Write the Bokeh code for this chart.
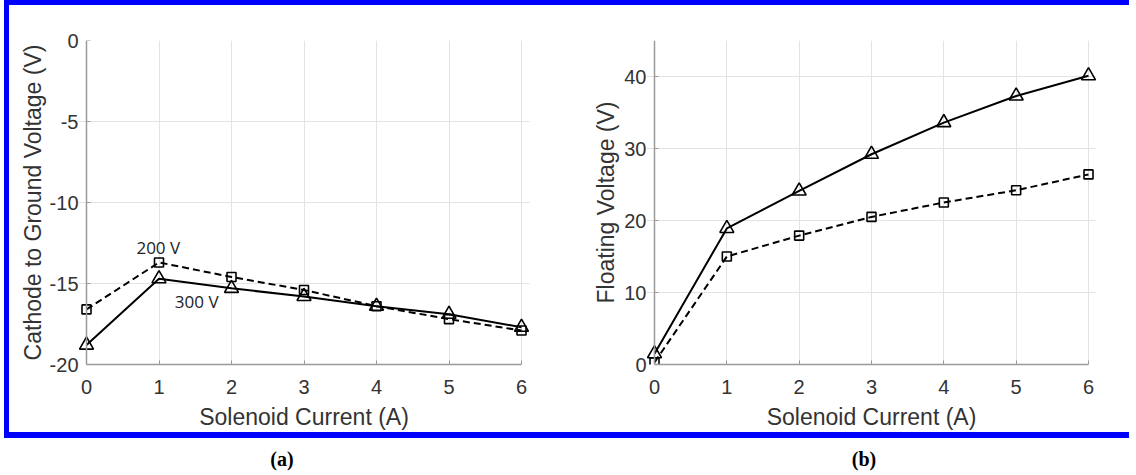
from bokeh.plotting import figure
from bokeh.models import Row, Column, Div, FixedTicker, Range1d, ColumnDataSource, LinearAxis, Grid
from bokeh.core.properties import value
from bokeh.embed import file_html
from bokeh.resources import INLINE

# ---------------- data ----------------
current = [0, 1, 2, 3, 4, 5, 6]

# (a) Cathode to ground voltage
cathode_200 = [-16.6, -13.7, -14.6, -15.4, -16.4, -17.2, -17.9]
cathode_300 = [-18.8, -14.7, -15.3, -15.8, -16.4, -16.9, -17.7]

# (b) Floating voltage
floating_200 = [0.3, 15.0, 17.9, 20.5, 22.5, 24.2, 26.4]
floating_300 = [1.5, 18.9, 24.1, 29.2, 33.6, 37.3, 40.1]

a_yticks = [-20, -15, -10, -5, 0]
b_yticks = [0, 10, 20, 30, 40]
x_ticks = [0, 1, 2, 3, 4, 5, 6]

annot_text = ["200 V", "300 V"]
annot_x = [0.99, 1.52]
annot_y = [-12.8, -16.1]

panel_labels = ["(a)", "(b)"]

TICK_FONT = "Liberation Sans"
TXT = "#333333"
AXIS_GREY = "#9a9a9a"
GRID_GREY = "#e3e3e3"


def style_axis(ax, ticks):
    ax.ticker = FixedTicker(ticks=ticks)
    ax.major_label_overrides = {t: str(t) for t in ticks}
    ax.axis_line_color = AXIS_GREY
    ax.axis_line_width = 1.5
    ax.major_tick_in = 4
    ax.major_tick_out = 0
    ax.major_tick_line_color = AXIS_GREY
    ax.minor_tick_line_color = None
    ax.major_label_text_font = TICK_FONT
    ax.major_label_text_font_size = "20px"
    ax.major_label_text_color = TXT
    ax.axis_label_text_font = TICK_FONT
    ax.axis_label_text_font_size = "23px"
    ax.axis_label_text_font_style = "normal"
    ax.axis_label_text_color = TXT


def make_panel(fw, bl, br, xr, yr, yticks, ylabel, ylabel_standoff):
    p = figure(frame_width=fw, frame_height=324, output_backend="svg", toolbar_location=None,
               x_range=Range1d(*xr), y_range=Range1d(*yr), y_axis_location=None,
               min_border_left=bl, min_border_right=br, min_border_top=35, min_border_bottom=65,
               x_axis_label="Solenoid Current (A)")
    style_axis(p.xaxis[0], x_ticks)
    p.xaxis.bounds = (x_ticks[0], x_ticks[-1])
    p.xaxis.major_label_standoff = 15
    p.xaxis.axis_label_standoff = 7

    # labelled y axis at the frame edge (its line hidden)
    ylab = LinearAxis(axis_label=ylabel)
    style_axis(ylab, yticks)
    ylab.axis_line_color = None
    ylab.major_tick_line_color = None
    ylab.major_label_standoff = 0
    ylab.axis_label_standoff = ylabel_standoff
    p.add_layout(ylab, "left")

    # visible y axis line and ticks at x = 0
    yline = LinearAxis(fixed_location=x_ticks[0])
    style_axis(yline, yticks)
    yline.major_label_text_font_size = "0px"
    yline.major_label_text_alpha = 0
    p.add_layout(yline, "left")

    p.xgrid.grid_line_color = GRID_GREY
    p.xgrid.ticker = FixedTicker(ticks=x_ticks)
    yg = Grid(dimension=1, ticker=FixedTicker(ticks=yticks), grid_line_color=GRID_GREY)
    p.add_layout(yg, "center")
    p.outline_line_color = None
    p.background_fill_color = "white"
    p.border_fill_color = "white"
    return p


PAD_A = 8 / 72.5
PAD_B = 8 / 72.333

# ---------------- panel (a) ----------------
pa = make_panel(451, 69, 50, (-PAD_A, 6 + PAD_A), (-20, 0), a_yticks,
                "Cathode to Ground Voltage (V)", 1)

pa.line(current, cathode_200, line_color="black", line_width=2, line_dash="7 4")
pa.scatter(current, cathode_200, marker="square", size=9, line_color="black",
           line_width=1.6, fill_alpha=0)
pa.line(current, cathode_300, line_color="black", line_width=2)
pa.scatter(current, cathode_300, marker="triangle", size=14, line_color="black",
           line_width=1.6, fill_alpha=0)

src = ColumnDataSource(dict(x=annot_x, y=annot_y, t=annot_text))
pa.text(x="x", y="y", text="t", source=src, text_font=value("Open Sans"),
        text_font_size="17px", text_color="#222222", text_align="center",
        text_baseline="middle")

# ---------------- panel (b) ----------------
pb = make_panel(450, 67, 33, (-PAD_B, 6 + PAD_B), (0, 45), b_yticks,
                "Floating Voltage (V)", 2)

pb.line(current, floating_200, line_color="black", line_width=2, line_dash="7 4")
pb.scatter(current, floating_200, marker="square", size=9, line_color="black",
           line_width=1.6, fill_alpha=0)
pb.line(current, floating_300, line_color="black", line_width=2)
pb.scatter(current, floating_300, marker="triangle", size=14, line_color="black",
           line_width=1.6, fill_alpha=0)

# ---------------- layout ----------------
box = Row(children=[pa, pb],
          styles={"border-top": "5px solid #0000ff", "border-left": "5px solid #0000ff",
                  "border-bottom": "6px solid #0000ff"})

lbl_html = (
    '<div style="position:relative;width:1120px;height:36px;'
    "font-family:'Liberation Serif';font-weight:bold;font-size:20px;color:#000;\">"
    f'<span style="position:absolute;left:273px;top:2px;transform:translateX(-50%);">{panel_labels[0]}</span>'
    f'<span style="position:absolute;left:855px;top:2px;transform:translateX(-50%);">{panel_labels[1]}</span>'
    '</div>'
)
lbl = Div(text=lbl_html, width=1120, height=36)

root = Column(children=[box, lbl], styles={"margin-left": "4px", "margin-top": "0px"})

open("out.html", "w").write(file_html(root, INLINE))
